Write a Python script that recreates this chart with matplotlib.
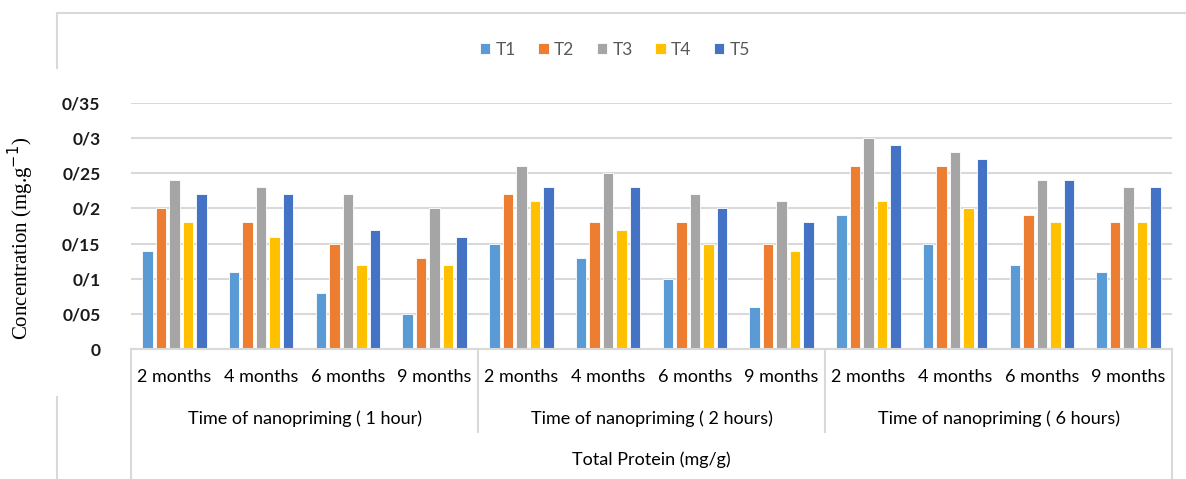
import matplotlib
matplotlib.use("Agg")
import matplotlib.pyplot as plt
import matplotlib.transforms as mtransforms
import numpy as np

series = ["T1", "T2", "T3", "T4", "T5"]
months = ["2 months", "4 months", "6 months", "9 months"]
groups = ["Time of nanopriming ( 1 hour)", "Time of nanopriming ( 2 hours)", "Time of nanopriming ( 6 hours)"]
outer_label = "Total Protein (mg/g)"

T1 = [0.14, 0.11, 0.08, 0.05, 0.15, 0.13, 0.10, 0.06, 0.19, 0.15, 0.12, 0.11]
T2 = [0.20, 0.18, 0.15, 0.13, 0.22, 0.18, 0.18, 0.15, 0.26, 0.26, 0.19, 0.18]
T3 = [0.24, 0.23, 0.22, 0.20, 0.26, 0.25, 0.22, 0.21, 0.30, 0.28, 0.24, 0.23]
T4 = [0.18, 0.16, 0.12, 0.12, 0.21, 0.17, 0.15, 0.14, 0.21, 0.20, 0.18, 0.18]
T5 = [0.22, 0.22, 0.17, 0.16, 0.23, 0.23, 0.20, 0.18, 0.29, 0.27, 0.24, 0.23]

yticks = [0, 0.05, 0.10, 0.15, 0.20, 0.25, 0.30, 0.35]
ytick_labels = ["0", "0/05", "0/1", "0/15", "0/2", "0/25", "0/3", "0/35"]

colors = ["#5B9BD5", "#ED7D31", "#A5A5A5", "#FFC000", "#4472C4"]

W, H = 1186, 479
fig = plt.figure(figsize=(W / 100, H / 100), dpi=100)
plt.rcParams['font.family'] = ['Lato', 'DejaVu Sans']

def fx(px):
    return px / W

def fy(py):
    return 1 - py / H

ax = fig.add_axes([fx(131), fy(349), fx(1172) - fx(131), fy(103) - fy(349)])

data = [T1, T2, T3, T4, T5]
n_cat = len(T1)
x = np.arange(n_cat)
slot = 0.156
bw = 0.122
for i, (vals, name, c) in enumerate(zip(data, series, colors)):
    ax.bar(x + (i - 2) * slot, vals, width=bw, color=c, label=name,
           edgecolor="white", linewidth=0.6, zorder=3)

ax.set_xlim(-0.5, n_cat - 0.5)
ax.set_ylim(0, 0.35)
ax.set_yticks(yticks)
ax.set_yticklabels(ytick_labels, fontsize=12.5, fontweight="bold", color="#1a1a1a")
ax.tick_params(axis="y", length=0, pad=22)
ax.set_xticks([])
ax.grid(axis="y", color="#D9D9D9", linewidth=1.5, zorder=0)
for s in ["top", "right", "left"]:
    ax.spines[s].set_visible(False)
ax.spines["bottom"].set_color("#D9D9D9")
ax.spines["bottom"].set_linewidth(1.5)
ax.spines["bottom"].set_zorder(4)

fig.text(fx(21), fy(238), "Concentration (mg.g$^{-1}$)", family="Liberation Serif",
         fontsize=15, rotation=90, ha="center", va="center")

# hierarchical category labels
tr = mtransforms.blended_transform_factory(ax.transData, fig.transFigure)
lbl_kw = dict(transform=tr, ha="center", va="center", fontsize=13, color="#000000")
for k in range(n_cat):
    ax.text(k, fy(377), months[k % 4], **lbl_kw)
for g, name in enumerate(groups):
    ax.text(4 * g + 1.5, fy(419), name, **lbl_kw)
ax.text((n_cat - 1) / 2, fy(460), outer_label, **lbl_kw)

sep_color = "#D9D9D9"
for b in [-0.5, 3.5, 7.5, 11.5]:
    bottom = fy(479) if b in (-0.5, 11.5) else fy(432)
    ax.plot([b, b], [fy(349), bottom], transform=tr, color=sep_color, lw=1.5,
            clip_on=False)

# outer chart frame fragments
fig.add_artist(plt.Line2D([fx(57), 1], [fy(13), fy(13)], color=sep_color, lw=1.5))
fig.add_artist(plt.Line2D([fx(57), fx(57)], [fy(13), fy(68)], color=sep_color, lw=1.5))
fig.add_artist(plt.Line2D([fx(57), fx(57)], [fy(397), fy(479)], color=sep_color, lw=1.5))

leg = fig.legend(loc="center", bbox_to_anchor=(fx(615), fy(50)), ncol=5, frameon=False,
                 fontsize=12.5, handlelength=0.6, handleheight=0.6, handletextpad=0.3,
                 columnspacing=1.3, labelcolor="#595959")

fig.savefig("out.png", dpi=100)
